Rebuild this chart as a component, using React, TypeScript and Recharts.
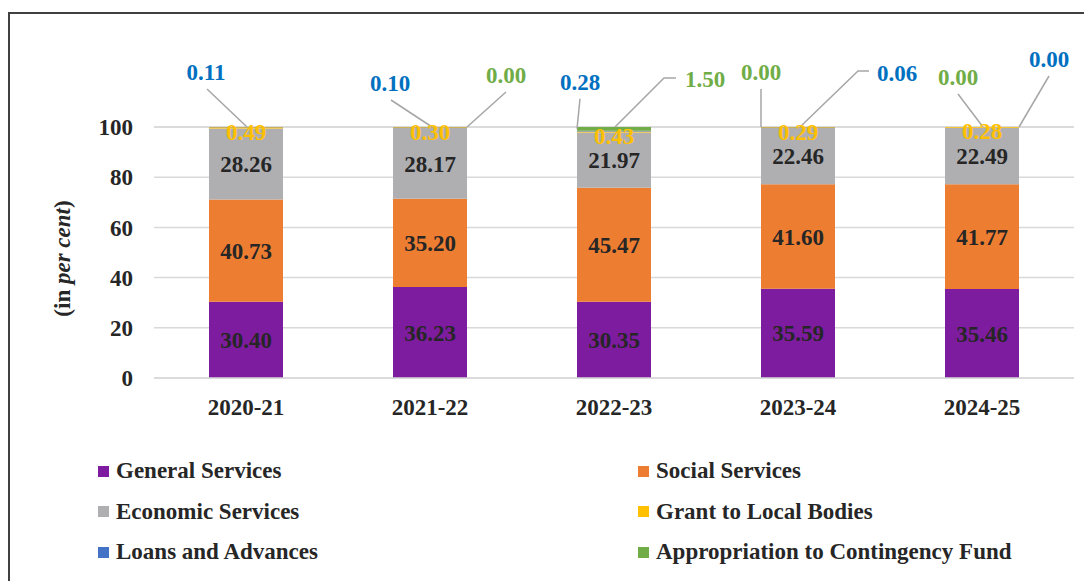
import React from 'react';
import { BarChart, Bar, XAxis, YAxis, CartesianGrid, LabelList, Legend, Label } from 'recharts';

const years = ['2020-21', '2021-22', '2022-23', '2023-24', '2024-25'];
const generalServices = [30.4, 36.23, 30.35, 35.59, 35.46];
const socialServices = [40.73, 35.2, 45.47, 41.6, 41.77];
const economicServices = [28.26, 28.17, 21.97, 22.46, 22.49];
const grantLocalBodies = [0.49, 0.3, 0.43, 0.29, 0.28];
const loansAdvances = [0.11, 0.1, 0.28, 0.06, 0.0];
const contingencyFund = [0.0, 0.0, 1.5, 0.0, 0.0];
const yTicks = [0, 20, 40, 60, 80, 100];

const seriesNames = [
  'General Services',
  'Social Services',
  'Economic Services',
  'Grant to Local Bodies',
  'Loans and Advances',
  'Appropriation to Contingency Fund',
];
const seriesColors = ['#7e1ca0', '#ed7d31', '#afafb2', '#ffc000', '#4472c4', '#70ad47'];

const FONT = '"Liberation Serif", "Times New Roman", serif';
const TEXT = '#262626';

const data = years.map((year, i) => ({
  year,
  general: generalServices[i],
  social: socialServices[i],
  economic: economicServices[i],
  grant: grantLocalBodies[i],
  loans: loansAdvances[i],
  contingency: contingencyFund[i],
}));

// callout placement relative to bar centre / segment top: text offset and leader line points
type Callout = { t: [number, number]; pts: [number, number][] } | null;
const loansCallouts: Callout[] = [
  { t: [-40, -55], pts: [[-39, -38], [1, 0]] },
  { t: [-40, -44], pts: [[-39, -27], [2, 0]] },
  { t: [-34, -49], pts: [[-34, -32], [-37, -2]] },
  { t: [99, -54], pts: [[71, -56], [60, -56], [2, 0]] },
  { t: [67, -68], pts: [[67, -51], [37, 0]] },
];
const contingencyCallouts: Callout[] = [
  null,
  { t: [76, -52], pts: [[76, -35], [37, 0]] },
  { t: [91, -48], pts: [[62, -49], [50, -49], [1, 0]] },
  { t: [-37, -55], pts: [[-37, -38], [-37, 0]] },
  { t: [-24, -50], pts: [[-24, -33], [1, 0]] },
];

function boxOf(props: any) {
  const vb = props.viewBox && props.viewBox.width !== undefined ? props.viewBox : props;
  return { x: Number(vb.x), y: Number(vb.y), width: Number(vb.width), height: Number(vb.height) };
}

function drawCallout(c: Callout, cx: number, top: number, value: number, color: string, key: string) {
  if (!c) return null;
  const d = c.pts.map((p, i) => `${i ? 'L' : 'M'}${cx + p[0]},${top + p[1]}`).join(' ');
  return (
    <g key={key}>
      <path d={d} stroke="#a6a6a6" strokeWidth={1.5} fill="none" />
      <text
        x={cx + c.t[0]}
        y={top + c.t[1]}
        dy="0.35em"
        textAnchor="middle"
        fill={color}
        fontSize={23}
        fontWeight="bold"
        fontFamily={FONT}
      >
        {value.toFixed(2)}
      </text>
    </g>
  );
}

// zero-height segments get no labels, so the small top segments are annotated from the economic bar
function TopCallouts(props: any) {
  const i = props.index;
  const { x, y, width, height } = boxOf(props);
  const ppu = height / economicServices[i];
  const cx = x + width / 2;
  const loansTop = y - (grantLocalBodies[i] + loansAdvances[i]) * ppu;
  const contTop = loansTop - contingencyFund[i] * ppu;
  return (
    <g>
      {drawCallout(loansCallouts[i], cx, loansTop, loansAdvances[i], '#0070c0', 'l')}
      {drawCallout(contingencyCallouts[i], cx, contTop, contingencyFund[i], '#70ad47', 'c')}
    </g>
  );
}

function GrantLabel(props: any) {
  const { x, y, width, height } = boxOf(props);
  return (
    <text
      x={x + width / 2}
      y={y + height / 2 + 4}
      dy="0.35em"
      textAnchor="middle"
      fill="#ffc000"
      fontSize={23}
      fontWeight="bold"
      fontFamily={FONT}
    >
      {Number(props.value).toFixed(2)}
    </text>
  );
}

function AxisTitle(props: any) {
  const { x, y, height } = boxOf(props);
  const cx = x + 24;
  const cy = y + height / 2 + 6;
  return (
    <text
      x={cx}
      y={cy}
      transform={`rotate(-90, ${cx}, ${cy})`}
      textAnchor="middle"
      dominantBaseline="central"
      fill={TEXT}
      fontSize={23}
      fontWeight="bold"
      fontFamily={FONT}
    >
      (in <tspan fontStyle="italic">per cent</tspan>)
    </text>
  );
}

function LegendBlock() {
  return (
    <div
      style={{
        display: 'grid',
        gridTemplateColumns: '540px 1fr',
        fontFamily: FONT,
        fontWeight: 'bold',
        fontSize: 23,
        color: TEXT,
      }}
    >
      {seriesNames.map((name, i) => (
        <div key={name} style={{ display: 'flex', alignItems: 'center', height: 40.5 }}>
          <span style={{ width: 11, height: 11, background: seriesColors[i], marginRight: 7, display: 'inline-block' }} />
          {name}
        </div>
      ))}
    </div>
  );
}

const inner = { fill: TEXT, fontSize: 23, fontWeight: 'bold', fontFamily: FONT };
const fmt = (v: any) => Number(v).toFixed(2);

export default function App() {
  return (
    <div style={{ position: 'relative', width: 1084, height: 573, overflow: 'hidden', background: '#fff' }}>
      <div
        style={{
          position: 'absolute',
          left: 0,
          top: 4,
          width: 1200,
          height: 700,
          border: '2px solid #404040',
        }}
      />
      <div style={{ position: 'absolute', left: 0, top: 0 }}>
        <BarChart width={1084} height={573} data={data} margin={{ top: 119, right: 18, left: 30, bottom: 163 }}>
          <CartesianGrid vertical={false} stroke="#d9d9d9" strokeWidth={1.5} />
          <XAxis
            dataKey="year"
            axisLine={{ stroke: '#d9d9d9', strokeWidth: 1.5 }}
            tickLine={false}
            tickMargin={15}
            height={40}
            tick={{ fill: TEXT, fontSize: 23, fontWeight: 'bold', fontFamily: FONT }}
          />
          <YAxis
            domain={[0, 100]}
            ticks={yTicks}
            width={116}
            axisLine={false}
            tickLine={false}
            tickMargin={15}
            tick={{ fill: TEXT, fontSize: 23, fontWeight: 'bold', fontFamily: FONT }}
          >
            <Label content={AxisTitle} />
          </YAxis>
          <Legend
            layout="vertical"
            align="center"
            verticalAlign="middle"
            wrapperStyle={{ left: 90, top: 443, width: 980 }}
            content={LegendBlock}
          />
          <Bar dataKey="general" name={seriesNames[0]} stackId="a" fill={seriesColors[0]} barSize={74} isAnimationActive={false}>
            <LabelList dataKey="general" position="center" formatter={fmt} {...inner} />
          </Bar>
          <Bar dataKey="social" name={seriesNames[1]} stackId="a" fill={seriesColors[1]} barSize={74} isAnimationActive={false}>
            <LabelList dataKey="social" position="center" formatter={fmt} {...inner} />
          </Bar>
          <Bar dataKey="economic" name={seriesNames[2]} stackId="a" fill={seriesColors[2]} barSize={74} isAnimationActive={false}>
            <LabelList dataKey="economic" position="center" formatter={fmt} {...inner} />
            <LabelList dataKey="economic" content={TopCallouts} />
          </Bar>
          <Bar dataKey="grant" name={seriesNames[3]} stackId="a" fill={seriesColors[3]} barSize={74} isAnimationActive={false}>
            <LabelList dataKey="grant" content={GrantLabel} />
          </Bar>
          <Bar dataKey="loans" name={seriesNames[4]} stackId="a" fill={seriesColors[4]} barSize={74} isAnimationActive={false} />
          <Bar dataKey="contingency" name={seriesNames[5]} stackId="a" fill={seriesColors[5]} barSize={74} isAnimationActive={false} />
        </BarChart>
      </div>
    </div>
  );
}
